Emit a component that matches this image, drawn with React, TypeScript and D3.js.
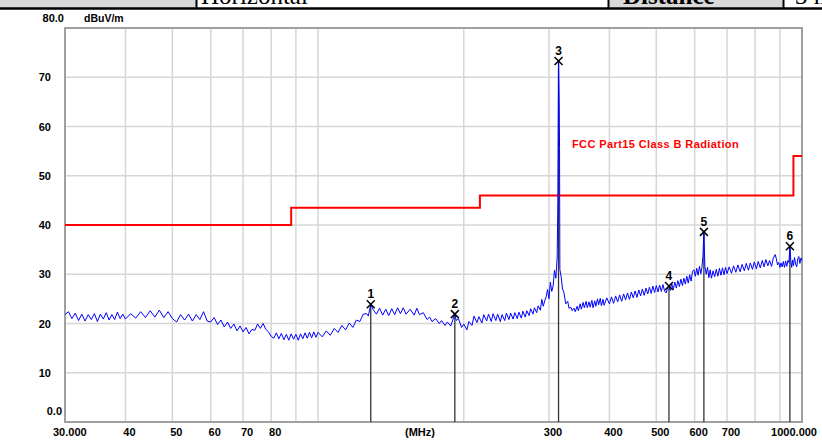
import { useRef, useEffect } from "react";
import * as d3 from "d3";

// limit line breakpoints (MHz, dBuV/m), drawn as steps
const limitSteps: [number, number][] = [
  [30, 40],
  [88, 43.5],
  [216, 46],
  [960, 54],
  [1000, 54],
];

const markers = [
  { id: "1", freq: 128.5, level: 23.9 },
  { id: "2", freq: 191.7, level: 21.9 },
  { id: "3", freq: 314, level: 73.3 },
  { id: "4", freq: 531, level: 27.6 },
  { id: "5", freq: 627, level: 38.6 },
  { id: "6", freq: 944, level: 35.7 },
];

const xGrid = [40, 50, 60, 70, 80, 90, 100, 200, 300, 400, 500, 600, 700, 800, 900];
const xLabels = ["40", "50", "60", "70", "80", "300", "400", "500", "600", "700"];
const yGrid = [10, 20, 30, 40, 50, 60, 70];

const trace: [number, number][] = [
  [30, 21.8], [30.5, 22.4], [31, 21.0], [31.5, 22.1], [32, 20.6], [32.5, 21.9],
  [33, 20.5], [33.5, 21.8], [34, 20.8], [34.5, 22.0], [35, 20.4], [35.5, 21.9],
  [36, 20.9], [36.5, 22.2], [37, 20.7], [37.5, 21.8], [38, 20.8], [38.5, 22.3],
  [39, 21.0], [39.5, 21.9], [40, 20.9], [41, 22.0], [42, 21.1], [43, 22.4],
  [44, 21.2], [45, 22.6], [46, 21.3], [47, 22.7], [48, 21.2], [49, 22.4],
  [50, 21.0], [51, 20.3], [52, 21.8], [53, 20.7], [54, 21.9], [55, 20.5],
  [56, 21.8], [57, 20.8], [58, 22.4], [59, 20.5], [60, 20.3], [61, 21.2],
  [62, 19.8], [63, 20.7], [64, 19.3], [65, 20.3], [66, 19.0], [67, 19.9],
  [68, 18.5], [69, 19.5], [70, 18.3], [71, 19.2], [72, 17.9], [73, 18.8],
  [74, 18.6], [75, 19.9], [76, 19.0], [77, 20.0], [78, 18.8], [79, 18.3],
  [80, 17.4], [81, 17.0], [82, 18.1], [83, 16.9], [84, 18.0], [85, 16.7],
  [86, 17.8], [87, 16.6], [88, 17.9], [89, 16.8], [90, 17.8], [91, 16.6],
  [92, 17.9], [93, 16.9], [94, 18.1], [95, 17.0], [96, 18.2], [97, 17.1],
  [98, 18.3], [99, 17.2], [100, 18.2], [102, 17.3], [104, 18.5], [106, 17.6],
  [108, 19.0], [110, 18.2], [112, 19.6], [114, 18.7], [116, 20.1], [118, 19.2],
  [120, 20.7], [122, 20.4], [124, 21.9], [126, 22.0], [127, 21.5], [128.5, 23.9],
  [130, 22.8], [132, 21.9], [134, 23.1], [136, 21.7], [138, 22.9], [140, 21.6],
  [142, 23.0], [144, 21.8], [146, 23.2], [148, 22.0], [150, 23.2], [152, 21.9],
  [155, 22.9], [158, 21.7], [160, 23.1], [162, 21.8], [165, 22.2], [168, 20.8],
  [170, 21.3], [172, 20.4], [175, 21.0], [178, 20.0], [180, 20.6], [183, 19.6],
  [185, 20.3], [188, 19.5], [191.7, 21.9], [193, 20.6], [195, 21.0], [198, 19.2],
  [200, 19.9], [203, 18.7], [205, 20.4], [208, 19.6], [210, 21.5], [213, 20.2],
  [215, 21.4], [218, 20.1], [220, 21.8], [223, 20.5], [225, 21.9], [228, 20.4],
  [230, 22.0], [233, 20.6], [235, 21.9], [238, 20.4], [240, 21.8], [243, 20.6],
  [245, 22.1], [248, 20.8], [250, 22.1], [253, 20.9], [255, 22.2], [258, 21.0],
  [260, 22.3], [263, 21.1], [265, 22.5], [268, 21.3], [270, 22.6], [273, 21.6],
  [275, 23.0], [278, 21.9], [280, 23.2], [283, 22.2], [285, 23.6], [288, 22.7],
  [290, 24.9], [292, 23.5], [294, 24.6], [296, 25.4], [298, 26.9], [300, 25.0],
  [302, 28.4], [304, 26.5], [306, 27.6], [308, 30.8], [310, 29.2], [312, 33.5],
  [313, 45.0], [314, 73.3], [315, 65.0], [315.5, 55.5], [316, 31.0], [318, 29.4],
  [320, 27.0], [322, 26.4], [325, 24.0], [328, 24.5], [330, 23.1], [333, 23.3],
  [335, 22.6], [338, 23.1], [340, 22.4], [343, 23.5], [345, 22.6], [348, 24.0],
  [350, 22.9], [353, 24.3], [355, 23.2], [358, 24.5], [360, 23.2], [363, 24.4],
  [365, 23.3], [368, 24.7], [370, 23.2], [373, 24.6], [375, 23.5], [378, 25.0],
  [380, 23.8], [383, 25.1], [385, 23.6], [388, 24.9], [390, 23.7], [395, 25.2],
  [400, 24.0], [404, 25.4], [408, 24.1], [412, 25.6], [416, 24.4], [420, 25.8],
  [424, 24.5], [428, 26.0], [432, 24.8], [436, 26.2], [440, 24.9], [444, 26.4],
  [448, 25.2], [452, 26.6], [456, 25.3], [460, 26.8], [464, 25.6], [468, 27.0],
  [472, 25.7], [476, 27.2], [480, 26.0], [484, 27.4], [488, 26.1], [492, 27.6],
  [496, 26.3], [500, 27.7], [504, 26.4], [508, 27.8], [512, 26.5], [516, 27.9],
  [520, 26.6], [524, 26.2], [528, 27.4], [531, 27.6], [534, 26.7], [538, 28.1],
  [542, 26.9], [546, 28.4], [550, 27.2], [554, 28.7], [558, 27.5], [562, 29.0],
  [566, 27.7], [570, 29.2], [574, 28.0], [578, 29.6], [582, 28.2], [586, 29.9],
  [590, 28.6], [594, 30.6], [598, 30.9], [602, 29.6], [606, 31.2], [610, 29.8],
  [614, 31.6], [618, 30.1], [621, 31.3], [624, 33.5], [627, 38.6], [630, 31.6],
  [634, 30.0], [638, 31.4], [642, 29.3], [646, 30.9], [650, 29.2], [655, 30.7],
  [660, 29.5], [665, 31.0], [670, 29.6], [675, 31.2], [680, 29.8], [685, 31.3],
  [690, 29.9], [695, 31.4], [700, 30.1], [707, 31.5], [715, 30.2], [722, 31.7],
  [730, 30.4], [737, 31.9], [745, 30.5], [752, 32.0], [760, 30.7], [767, 32.2],
  [775, 30.8], [782, 32.3], [790, 31.0], [797, 32.5], [805, 31.1], [812, 32.6],
  [820, 31.3], [828, 32.8], [835, 31.5], [842, 33.0], [850, 31.7], [857, 32.8],
  [865, 31.6], [872, 33.2], [880, 34.0], [885, 33.2], [890, 31.9], [895, 32.4],
  [900, 31.4], [905, 32.3], [910, 31.5], [915, 32.6], [920, 31.4], [925, 32.7],
  [930, 31.6], [935, 32.8], [940, 32.4], [944, 35.7], [948, 32.8], [952, 31.4],
  [956, 32.9], [960, 31.7], [965, 33.4], [970, 32.1], [975, 31.5], [980, 33.1],
  [985, 33.6], [990, 32.2], [995, 33.3], [1000, 32.8],
];

export default function App() {
  const svgRef = useRef<SVGSVGElement>(null);

  useEffect(() => {
    if (!svgRef.current) return;
    const svg = d3.select(svgRef.current);
    svg.selectAll("*").remove();

    const left = 65;
    const right = 802;
    const top = 28;
    const bottom = 422;

    const x = d3.scaleLog().domain([30, 1000]).range([left, right]);
    const y = d3.scaleLinear().domain([0, 80]).range([bottom, top]);

    // header table fragment, cut off by the page top
    const header = svg.append("g");
    header.append("rect").attr("x", 0).attr("y", 0).attr("width", 196).attr("height", 8).attr("fill", "#d9d9d9");
    header.append("rect").attr("x", 609).attr("y", 0).attr("width", 174).attr("height", 8).attr("fill", "#d9d9d9");
    [196.5, 608.5, 783.5].forEach((bx) => {
      header.append("line").attr("x1", bx).attr("x2", bx).attr("y1", 0).attr("y2", 9)
        .attr("stroke", "#000").attr("stroke-width", 2);
    });
    header.append("line").attr("x1", 0).attr("x2", 822).attr("y1", 8.5).attr("y2", 8.5)
      .attr("stroke", "#000").attr("stroke-width", 2.5);
    header.append("text").attr("x", 201).attr("y", 3.5)
      .attr("font-family", "'Liberation Serif', serif").attr("font-size", 25)
      .text("Horizontal");
    header.append("text").attr("x", 623).attr("y", 3.5)
      .attr("font-family", "'Liberation Serif', serif").attr("font-size", 25).attr("font-weight", "bold")
      .text("Distance");
    header.append("text").attr("x", 795).attr("y", 3.5)
      .attr("font-family", "'Liberation Serif', serif").attr("font-size", 25)
      .text("3 m");

    // grid
    const grid = svg.append("g").attr("stroke", "#d6d6d6").attr("stroke-width", 1.5);
    xGrid.forEach((f) => {
      grid.append("line").attr("x1", x(f)).attr("x2", x(f)).attr("y1", top).attr("y2", bottom);
    });
    yGrid.forEach((v) => {
      grid.append("line").attr("x1", left).attr("x2", right).attr("y1", y(v)).attr("y2", y(v));
    });

    // frame
    svg.append("rect").attr("x", left).attr("y", top).attr("width", right - left).attr("height", bottom - top)
      .attr("fill", "none").attr("stroke", "#a0a0a0").attr("stroke-width", 2);

    const font = "'Liberation Sans', Arial, sans-serif";

    // y labels
    const yl = svg.append("g").attr("font-family", font).attr("font-size", 11).attr("font-weight", "bold")
      .attr("fill", "#000").attr("text-anchor", "end");
    yGrid.forEach((v) => {
      yl.append("text").attr("x", 51).attr("y", y(v) + 4).text(String(v));
    });
    yl.append("text").attr("x", 62).attr("y", y(0) - 7).text("0.0");
    yl.append("text").attr("x", 64).attr("y", top - 6).text("80.0");
    yl.append("text").attr("x", 84).attr("y", top - 6).attr("text-anchor", "start").attr("font-size", 10.5).text("dBuV/m");

    // x labels
    const xl = svg.append("g").attr("font-family", font).attr("font-size", 11).attr("font-weight", "bold")
      .attr("fill", "#000").attr("text-anchor", "middle");
    xLabels.forEach((t) => {
      xl.append("text").attr("x", x(+t) + 4).attr("y", 436).text(t);
    });
    xl.append("text").attr("x", 53).attr("y", 436).attr("text-anchor", "start").text("30.000");
    xl.append("text").attr("x", 817).attr("y", 436).attr("text-anchor", "end").text("1000.000");
    xl.append("text").attr("x", 420).attr("y", 436).text("(MHz)");

    // marker drop lines
    markers.forEach((m) => {
      svg.append("line").attr("x1", x(m.freq)).attr("x2", x(m.freq)).attr("y1", y(m.level)).attr("y2", bottom)
        .attr("stroke", "#333").attr("stroke-width", 1.3);
    });

    // limit line
    const limitLine = d3.line<[number, number]>()
      .x((d) => x(d[0])).y((d) => y(d[1])).curve(d3.curveStepAfter);
    svg.append("path").attr("d", limitLine(limitSteps)!)
      .attr("fill", "none").attr("stroke", "#ff0000").attr("stroke-width", 2);
    svg.append("text").attr("x", 572).attr("y", 148)
      .attr("font-family", font).attr("font-size", 11).attr("font-weight", "bold").attr("fill", "#ff0000")
      .attr("letter-spacing", 0.4)
      .text("FCC Part15 Class B Radiation");

    // trace
    const traceLine = d3.line<[number, number]>().x((d) => x(d[0])).y((d) => y(d[1]));
    svg.append("path").attr("d", traceLine(trace)!)
      .attr("fill", "none").attr("stroke", "#0000ff").attr("stroke-width", 1);

    // marker symbols
    markers.forEach((m) => {
      const mx = x(m.freq);
      const my = y(m.level);
      const g = svg.append("g").attr("stroke", "#000").attr("stroke-width", 1.5);
      g.append("line").attr("x1", mx - 4).attr("x2", mx + 4).attr("y1", my - 4).attr("y2", my + 4);
      g.append("line").attr("x1", mx - 4).attr("x2", mx + 4).attr("y1", my + 4).attr("y2", my - 4);
      svg.append("text").attr("x", mx).attr("y", my - 6)
        .attr("font-family", font).attr("font-size", 12).attr("font-weight", "bold")
        .attr("text-anchor", "middle").text(m.id);
    });
  }, []);

  return (
    <svg
      ref={svgRef}
      width={822}
      height={441}
      style={{ position: "fixed", left: 0, top: 0, background: "#fff" }}
    />
  );
}
